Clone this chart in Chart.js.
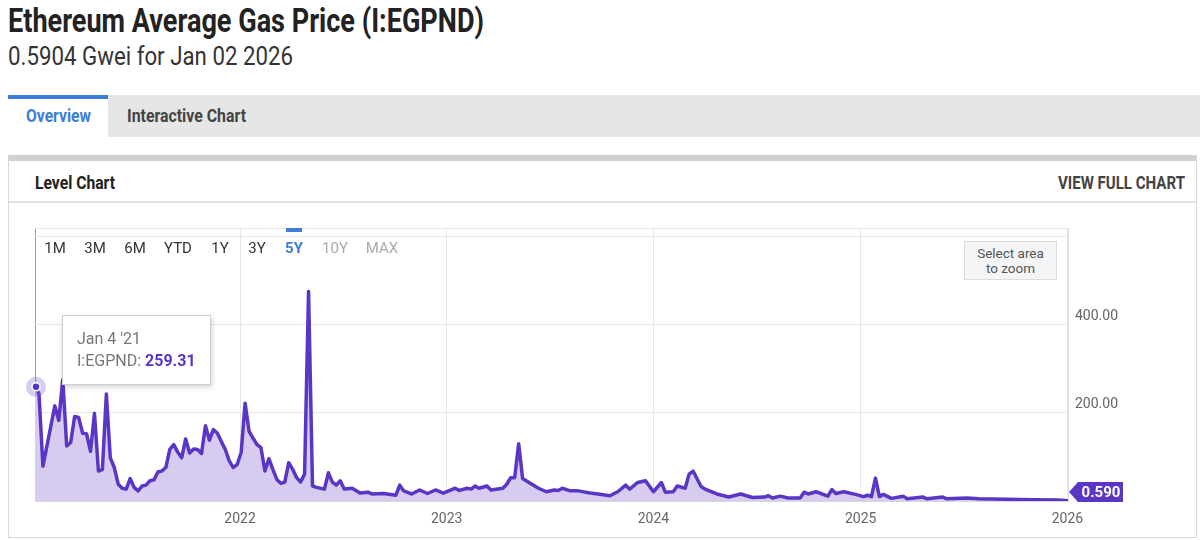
<!DOCTYPE html>
<html>
<head>
<meta charset="utf-8">
<script src="https://cdn.jsdelivr.net/npm/chart.js@4.4.1/dist/chart.umd.min.js"></script>
<style>
  body { margin: 0; width: 1200px; height: 540px; overflow: hidden; background: #fff; position: relative; font-family: Roboto, "Open Sans", sans-serif; }
  .abs { position: absolute; white-space: nowrap; }
  .fit { transform-origin: 0 50%; }
  #title { left: 8px; top: 1px; font-size: 33px; line-height: 40px; font-weight: 700; color: #222; }
  #subtitle { left: 8px; top: 40px; font-size: 26px; line-height: 32px; font-weight: 400; color: #333; }
  #tabbar { left: 8px; top: 95px; width: 1192px; height: 42px; background: #e6e6e6; }
  #tabOn { left: 8px; top: 95px; width: 100px; height: 42px; background: #fff; border-top: 4px solid #3b7dd8; box-sizing: border-box; }
  .tab { top: 105px; font-size: 19px; line-height: 22px; font-weight: 700; }
  #panel { left: 8px; top: 155px; width: 1187px; height: 376px; border: 1px solid #d9d9d9; border-top: 6px solid #d0d0d0; }
  #divider { left: 9px; top: 201px; width: 1187px; height: 2px; background: #e2e2e2; }
  .head { top: 172px; font-size: 18px; line-height: 21px; font-weight: 700; }
  #chart { position: absolute; left: 0; top: 0; }
  .range { top: 239px; width: 44px; text-align: center; font-size: 15px; line-height: 18px; color: #333; }
  #rangeMark { left: 286px; top: 228px; width: 16px; height: 4px; background: #3b7dd8; }
  #zoomBox { left: 964px; top: 241px; width: 91px; background: #f4f5f6; border: 1px solid #dcdcdc; text-align: center; font-size: 13.5px; line-height: 15px; color: #555; padding-top: 4px; height: 33px; }
  #tip { background: #fff; border: 1px solid #cfcfcf; box-shadow: 1px 2px 5px rgba(0,0,0,0.18); font-size: 16px; line-height: 22px; color: #777; padding: 12px 0 0 14px; box-sizing: border-box; width: 149px; height: 70px; }
  #tip b { color: #5a36c6; }
</style>
</head>
<body>
<div class="abs fit" id="title">Ethereum Average Gas Price (I:EGPND)</div>
<div class="abs fit" id="subtitle">0.5904 Gwei for Jan 02 2026</div>
<div class="abs" id="tabbar"></div>
<div class="abs" id="tabOn"></div>
<div class="abs fit tab" id="tabOverview" style="left:26px;color:#3b7dd8">Overview</div>
<div class="abs fit tab" id="tabInteractive" style="left:127px;color:#444">Interactive Chart</div>
<div class="abs" id="panel"></div>
<div class="abs" id="divider"></div>
<div class="abs fit head" id="levelChart" style="left:35px;color:#222">Level Chart</div>
<div class="abs fit head" id="viewFull" style="left:1058px;color:#444">VIEW FULL CHART</div>
<canvas id="chart" width="1200" height="540"></canvas>
<div class="abs" id="rangeMark"></div>
<div id="ranges"></div>
<div class="abs" id="zoomBox">Select area<br>to zoom</div>
<div class="abs" id="tip"></div>

<script>
// weekly samples, counted in weeks from Mon Jan 4 2021 (last one = Jan 2 2026)
const weekNo = [0, 1, 2, 5, 6, 7, 8, 9, 10, 11, 12, 13, 14, 15, 16, 17, 18, 19, 20, 21, 22, 23, 24, 25, 26, 27, 28, 29, 30,
  31, 32, 33, 34, 35, 36, 37, 38, 39, 40, 41, 42, 43, 44, 45, 46, 47, 48, 49, 50, 51, 52, 53, 54, 55, 56, 57, 58, 59, 60,
  61, 62, 63, 64, 65, 66, 67, 68, 69, 70, 71, 73, 74, 75, 76, 77, 78, 80, 82, 84, 85, 88, 91, 92, 93, 95, 97, 99, 101, 103,
  106, 107, 109, 110, 111, 112, 114, 115, 118, 119, 120, 121, 122, 123, 125, 127, 129, 131, 132, 133, 135, 137, 140, 142,
  145, 147, 149, 150, 152, 154, 156, 158, 159, 161, 162, 164, 165, 166, 168, 169, 172, 175, 178, 181, 184, 185, 186, 188,
  190, 193, 194, 195, 197, 200, 201, 202, 204, 207, 209, 210, 211, 212, 213, 214, 216, 219, 220, 224, 225, 229, 230, 235,
  238, 245, 252, 258, 260.57];
// average gas price, Gwei
const gasPrice = [259.31, 244, 79, 216, 183, 276, 125, 133, 192, 190, 154, 153, 113, 199, 68, 72, 243, 98, 76, 38, 29, 27, 51, 31, 23, 34, 36, 46, 48,
  66, 68, 76, 117, 128, 111, 98, 141, 109, 118, 117, 108, 171, 138, 162, 154, 135, 117, 91, 76, 83, 110, 222, 158, 143, 128, 121, 68, 96, 72,
  49, 40, 43, 87, 72, 53, 43, 61, 476, 34, 31, 27, 64, 43, 36, 46, 27, 29, 18, 20, 16, 17, 13, 36, 23, 16, 25, 17, 25, 18,
  29, 24, 29, 27, 34, 29, 34, 25, 29, 38, 53, 53, 130, 51, 40, 29, 21, 25, 24, 29, 23, 23, 18, 16,
  12, 21, 36, 27, 42, 46, 21, 42, 20, 21, 34, 29, 61, 68, 33, 27, 16, 9, 16, 8, 9, 12, 7, 11,
  7, 7, 20, 16, 21, 11, 26, 17, 21, 15, 10, 13, 10, 52, 10, 15, 6, 11, 5, 9, 5, 9, 5, 7,
  5, 4, 3, 2.5, 0.5904];
const yearTicks = [2022, 2023, 2024, 2025, 2026];
const yGrid = [0, 200, 400, 600, 620];
const yLabels = [200, 400];
const seriesName = 'I:EGPND';
const rangeLabels = ['1M', '3M', '6M', 'YTD', '1Y', '3Y', '5Y', '10Y', 'MAX'];

const lineColor = '#5a36c6';
const fillColor = '#d7ccef';
const DAY = 86400000;
const startMs = Date.UTC(2021, 0, 4);
const points = weekNo.map((w, i) => ({ x: startMs + w * 7 * DAY, y: gasPrice[i] }));
const xMin = points[0].x, xMax = points[points.length - 1].x;
const months = ['Jan','Feb','Mar','Apr','May','Jun','Jul','Aug','Sep','Oct','Nov','Dec'];

// range selector buttons
const rangeX = [55, 95, 135, 178, 220, 257, 294, 335, 382];
const rangeBox = document.getElementById('ranges');
rangeLabels.forEach((r, i) => {
  const d = document.createElement('div');
  d.className = 'abs range';
  d.style.left = (rangeX[i] - 22) + 'px';
  d.textContent = r;
  if (r === '5Y') { d.style.color = '#3b7dd8'; d.style.fontWeight = '700'; }
  if (r === '10Y' || r === 'MAX') d.style.color = '#aaa';
  rangeBox.appendChild(d);
});

// squeeze header texts to the narrow widths of the original
function fitWidth(id, w) {
  const el = document.getElementById(id);
  const cur = el.getBoundingClientRect().width;
  el.style.transform = 'scaleX(' + (w / cur) + ')';
}
fitWidth('title', 476);
fitWidth('subtitle', 285);
fitWidth('tabOverview', 65);
fitWidth('tabInteractive', 119);
fitWidth('levelChart', 80);
const vf = document.getElementById('viewFull');
const vfW = vf.getBoundingClientRect().width;
vf.style.left = (1185 - vfW) + 'px';
vf.style.transformOrigin = '100% 50%';
vf.style.transform = 'scaleX(' + (127 / vfW) + ')';

const markers = {
  id: 'markers',
  afterDatasetsDraw(chart) {
    const ctx = chart.ctx;
    const pts = chart.getDatasetMeta(0).data;
    const first = pts[0], last = pts[pts.length - 1];
    const area = chart.chartArea;
    ctx.save();
    // hovered point
    ctx.fillStyle = 'rgba(120, 90, 210, 0.3)';
    ctx.beginPath(); ctx.arc(first.x + 1, first.y, 10, 0, Math.PI * 2); ctx.fill();
    ctx.fillStyle = lineColor; ctx.strokeStyle = '#fff'; ctx.lineWidth = 1.5;
    ctx.beginPath(); ctx.arc(first.x + 1, first.y, 4, 0, Math.PI * 2); ctx.fill(); ctx.stroke();
    // last value flag
    const cy = Math.min(last.y, area.bottom - 9);
    const x0 = area.right + 1;
    ctx.fillStyle = lineColor;
    ctx.beginPath();
    ctx.moveTo(x0, cy); ctx.lineTo(x0 + 9, cy - 10); ctx.lineTo(x0 + 54, cy - 10);
    ctx.lineTo(x0 + 54, cy + 10); ctx.lineTo(x0 + 9, cy + 10); ctx.closePath(); ctx.fill();
    ctx.fillStyle = '#fff';
    ctx.font = 'bold 15px Roboto';
    ctx.textAlign = 'center'; ctx.textBaseline = 'middle';
    ctx.fillText(gasPrice[gasPrice.length - 1].toFixed(3), x0 + 32, cy + 1);
    ctx.restore();
    // tooltip box for the hovered point
    const d = new Date(xMin);
    const tip = document.getElementById('tip');
    tip.innerHTML = months[d.getUTCMonth()] + ' ' + d.getUTCDate() + " '" + String(d.getUTCFullYear()).slice(2) +
      '<br>' + seriesName + ': <b>' + gasPrice[0].toFixed(2) + '</b>';
    tip.style.left = (first.x + 27) + 'px';
    tip.style.top = (first.y - 72) + 'px';
  }
};

new Chart(document.getElementById('chart'), {
  type: 'line',
  data: {
    datasets: [{
      label: seriesName,
      data: points,
      borderColor: lineColor,
      borderWidth: 3.5,
      backgroundColor: fillColor,
      fill: 'origin',
      pointRadius: 0,
      tension: 0,
      borderJoinStyle: 'round'
    }]
  },
  options: {
    responsive: false,
    animation: false,
    events: [],
    layout: { padding: { left: 35, top: 228, right: 0, bottom: 0 } },
    plugins: { legend: { display: false }, tooltip: { enabled: false } },
    scales: {
      x: {
        type: 'linear',
        min: xMin,
        max: xMax,
        afterBuildTicks: s => { s.ticks = [xMin].concat(yearTicks.map(y => Date.UTC(y, 0, 1))).map(v => ({ value: v })); },
        afterFit: s => { s.height = 39; },
        ticks: {
          autoSkip: false, maxRotation: 0, padding: 10, color: '#666',
          font: { family: 'Roboto', size: 14 },
          callback: v => v === xMin ? '' : new Date(v).getUTCFullYear()
        },
        grid: { drawTicks: false, color: c => c.tick && c.tick.value === xMin ? '#9a9a9a' : '#e6e6e6' },
        border: { color: '#d8d8d8' }
      },
      y: {
        position: 'right',
        min: 0,
        max: yGrid[yGrid.length - 1],
        afterBuildTicks: s => { s.ticks = yGrid.map(v => ({ value: v })); },
        ticks: {
          autoSkip: false, padding: 7, labelOffset: -8, color: '#666',
          font: { family: 'Roboto', size: 14 },
          callback: v => yLabels.includes(v) ? v.toFixed(2) : ''
        },
        afterFit: s => { s.width = 132; },
        grid: { drawTicks: false, color: '#e6e6e6' },
        border: { color: '#dcdcdc' }
      }
    }
  },
  plugins: [markers]
});
</script>
</body>
</html>
